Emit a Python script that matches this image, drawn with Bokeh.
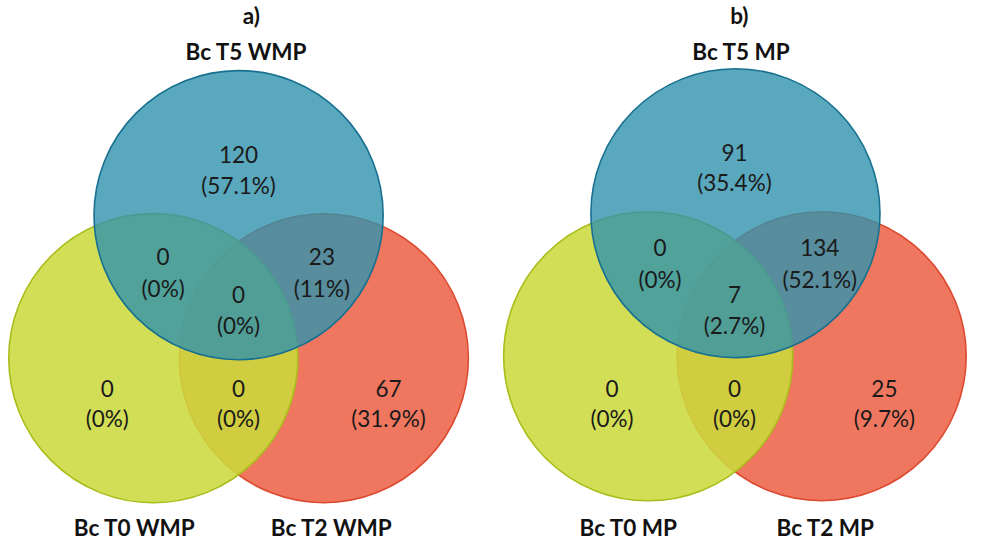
from bokeh.plotting import figure
from bokeh.models import Range1d, ColumnDataSource
from bokeh.core.properties import value
from bokeh.embed import file_html
from bokeh.resources import INLINE

# ---------------- data ----------------
panel_titles = ["a)", "b)"]
set_names_a = ["Bc T5 WMP", "Bc T0 WMP", "Bc T2 WMP"]
set_names_b = ["Bc T5 MP", "Bc T0 MP", "Bc T2 MP"]
# region order: T5 only, T5&T0, T5&T2, all, T0 only, T0&T2, T2 only
region_names = ["T5", "T5_T0", "T5_T2", "T5_T0_T2", "T0", "T0_T2", "T2"]
counts_a = [120, 0, 23, 0, 0, 0, 67]
counts_b = [91, 0, 134, 7, 0, 0, 25]

# ---------------- style / layout ----------------
FONT = "Lato"
fill_colors = ["#3192ac", "#ccd93d", "#ee6348"]   # T5, T0, T2
fill_alphas = [0.8, 0.876, 0.876]
line_colors = ["#17708f", "#a9bd1a", "#dc4a30"]
draw_order = [2, 1, 0]  # red, yellow, blue on top

W, H = 974, 541
SCALE = 0.98
XC, YC = 501, 283  # layout point placed at the figure centre
half_w, half_h = W / SCALE / 2, H / SCALE / 2

layouts = [
    dict(
        circles=[(247, 226), (160, 372), (334, 372)], r=147.5,
        title=(260, 22),
        set_labels=[(255, 59), (141, 545), (342, 545)],
        regions=[(247, 164, 196), (170, 268, 301), (332, 268, 301),
                 (247, 307, 339), (113, 403, 434), (247, 403, 434),
                 (400, 403, 434)],
    ),
    dict(
        circles=[(754, 224), (665, 370), (842, 370)], r=147.5,
        title=(758, 22),
        set_labels=[(760, 59), (645, 545), (846, 545)],
        regions=[(753, 162, 193), (677, 259, 292), (840, 259, 292),
                 (753, 307, 339), (628, 403, 434), (753, 403, 434),
                 (906, 403, 434)],
    ),
]


def pct(c, total):
    v = round(100.0 * c / total, 1)
    s = ("%.1f" % v).rstrip("0").rstrip(".")
    return "(" + s + "%)"


p = figure(width=W, height=H, output_backend="svg", toolbar_location=None,
           x_range=Range1d(XC - half_w, XC + half_w),
           y_range=Range1d(YC + half_h, YC - half_h),
           min_border=0, outline_line_color=None)
p.axis.visible = False
p.grid.visible = False
p.background_fill_color = "white"
p.border_fill_color = "white"

FS = "22.5px"
panels = [(set_names_a, counts_a), (set_names_b, counts_b)]
for k, (names, counts) in enumerate(panels):
    lay = layouts[k]
    for i in draw_order:
        cx, cy = lay["circles"][i]
        p.circle(x=[cx], y=[cy], radius=lay["r"], fill_color=fill_colors[i],
                 fill_alpha=fill_alphas[i], line_color=line_colors[i], line_width=1.6)
    total = sum(counts)
    xs, ys1, ys2, t1, t2 = [], [], [], [], []
    for j, c in enumerate(counts):
        x, y1, y2 = lay["regions"][j]
        xs.append(x); ys1.append(y1); ys2.append(y2)
        t1.append(str(c)); t2.append(pct(c, total))
    src = ColumnDataSource(dict(x=xs, y1=ys1, y2=ys2, t1=t1, t2=t2))
    p.text(x="x", y="y1", text="t1", source=src, text_font=value(FONT),
           text_font_size=FS, text_align="center", text_baseline="middle",
           text_color="#1a1a1a")
    p.text(x="x", y="y2", text="t2", source=src, text_font=value(FONT),
           text_font_size=FS, text_align="center", text_baseline="middle",
           text_color="#1a1a1a")
    sx = [pt[0] for pt in lay["set_labels"]]
    sy = [pt[1] for pt in lay["set_labels"]]
    p.text(x=sx, y=sy, text=names, text_font=value(FONT), text_font_size=FS,
           text_font_style="bold", text_align="center", text_baseline="middle",
           text_color="#111111")
    p.text(x=[lay["title"][0]], y=[lay["title"][1]], text=[panel_titles[k]],
           text_font=value(FONT), text_font_size=FS, text_font_style="bold",
           text_align="center", text_baseline="middle", text_color="#111111")

open("out.html", "w").write(file_html(p, INLINE))
